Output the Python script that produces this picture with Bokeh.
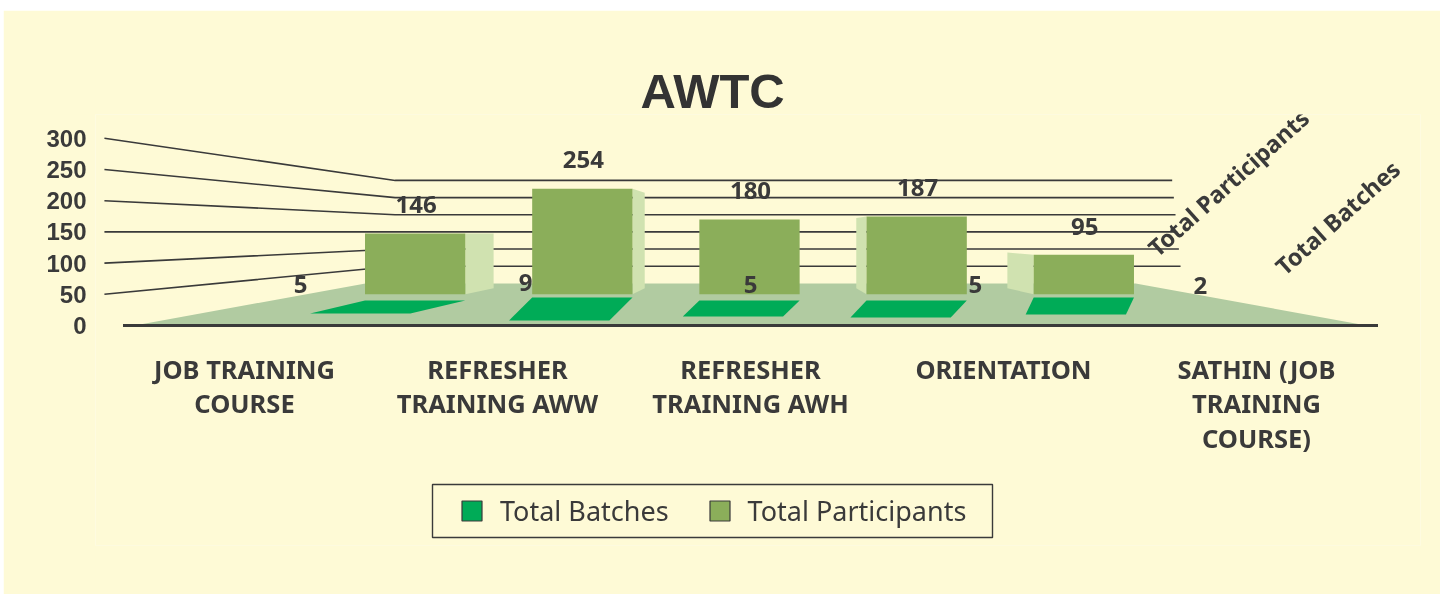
from bokeh.plotting import figure
from bokeh.models import Range1d, FixedTicker, Legend, LegendItem, Label, ColumnDataSource
from bokeh.core.properties import value
from bokeh.embed import file_html
from bokeh.resources import INLINE

# ---- data
categories = ["JOB TRAINING\nCOURSE", "REFRESHER\nTRAINING AWW", "REFRESHER\nTRAINING AWH",
              "ORIENTATION", "SATHIN (JOB\nTRAINING\nCOURSE)"]
total_batches = [5, 9, 5, 5, 2]
total_participants = [146, 254, 180, 187, 95]
y_ticks = [0, 50, 100, 150, 200, 250, 300]
series_names = ["Total Batches", "Total Participants"]
chart_title = "AWTC"

# ---- layout of the perspective (depth scale s around the vanishing point)
CX, CV = 2.0, 150.0            # vanishing point in category / value units
S_WALL = 0.55                  # back wall
S_BAR, S_BAR_BACK = 0.666, 0.602
S_BATCH = 0.896
BAR_HALF = 0.30
BAR_NUDGE = -0.004
WALL_OUT = 2.574
LABEL_LIFT = 46
FLOOR_FRONT, FLOOR_BACK = 2.454, 1.534
PAD_BACK = [40, 45, 40, 40, 45]
PAD_DEPTH_PER_BATCH = [4.17, 4.1, 5.13, 5.45, 13.6]
PAD_SKEW = [-0.219, -0.092, -0.066, -0.064, -0.032]
TICK_SPREAD = 1.008

BG, DARK = "#FEFAD6", "#3A3A3A"
FLOOR, FRONT, SIDE, PAD = "#B1CBA1", "#8BAE5A", "#D0E2B0", "#00AB57"
NAN = float("nan")


def px(c, s):
    return CX + s * (c - CX)


def pv(v, s):
    return CV + s * (v - CV)


PX_PER_CAT, PX_PER_V = 251.0, 0.624
FW, FH = 1325, 431
x0 = CX - (750 - 95) / PX_PER_CAT
y0 = (325 - 545) / PX_PER_V

p = figure(width=1437, height=584, output_backend="svg", toolbar_location=None,
           frame_width=FW, frame_height=FH,
           x_range=Range1d(x0, x0 + FW / PX_PER_CAT),
           y_range=Range1d(y0, y0 + FH / PX_PER_V),
           min_border_left=92, min_border_right=20, min_border_top=104, min_border_bottom=49,
           background_fill_color=BG, border_fill_color=BG, outline_line_color=None,
           styles={"position": "fixed", "left": "3px", "top": "10px"})
p.grid.visible = False

p.title.text = chart_title
p.title.text_font = "Liberation Sans"
p.title.text_font_size = "49px"
p.title.text_font_style = "bold"
p.title.text_color = "#333333"
p.title.align = "left"
p.title.offset = 545
p.title.standoff = -7

ya = p.yaxis[0]
ya.ticker = FixedTicker(ticks=[t for t in y_ticks])
ya.bounds = (0, 300)
ya.axis_line_color = None
ya.major_tick_line_color = None
ya.minor_tick_line_color = None
ya.major_label_standoff = 3
ya.major_label_text_font = "Liberation Sans"
ya.major_label_text_font_style = "bold"
ya.major_label_text_font_size = "24px"
ya.major_label_text_color = DARK

tick_at = [round(px(i, TICK_SPREAD), 3) for i in range(len(categories))]
xa = p.xaxis[0]
xa.fixed_location = 0
xa.ticker = FixedTicker(ticks=tick_at)
xa.major_label_overrides = dict(zip(tick_at, categories))
xa.axis_line_color = None
xa.major_tick_line_color = None
xa.minor_tick_line_color = None
xa.major_label_standoff = 20
xa.major_label_text_font = "Noto Sans"
xa.major_label_text_font_style = "bold"
xa.major_label_text_font_size = "25.5px"
xa.major_label_text_color = DARK
xa.major_label_text_line_height = 1.02

# grid on the left wall and back wall
xs, ys = [], []
for t in y_ticks[1:]:
    xs.append([CX - WALL_OUT, px(CX - WALL_OUT, S_WALL), CX + 1.68 + (300 - t) / 300 * 0.04])
    ys.append([t, pv(t, S_WALL), pv(t, S_WALL)])
p.multi_line(xs, ys, line_color=DARK, line_width=1.6)

# floor
p.patch([CX - FLOOR_FRONT, CX + FLOOR_FRONT, CX + FLOOR_BACK, CX - FLOOR_BACK],
        [0, 0, pv(0, S_WALL), pv(0, S_WALL)], fill_color=FLOOR, line_color=None)
# base line
p.line([CX - 2.50, CX + 2.50], [0, 0], line_color=DARK, line_width=3)

idx = list(range(len(categories)))

# side faces of the participants' bars
sx, sy = [], []
for i, v in zip(idx, total_participants):
    if i == CX:
        continue
    edge = i + BAR_HALF if i < CX else i - BAR_HALF
    sx.append([px(edge, S_BAR) + BAR_NUDGE, px(edge, S_BAR) + BAR_NUDGE, px(edge, S_BAR_BACK), px(edge, S_BAR_BACK)])
    sy.append([pv(0, S_BAR), pv(v, S_BAR), pv(v, S_BAR_BACK), pv(0, S_BAR_BACK)])
p.patches(sx, sy, fill_color=SIDE, line_color=None)

# front faces
fronts = ColumnDataSource(dict(
    left=[px(i - BAR_HALF, S_BAR) + BAR_NUDGE for i in idx],
    right=[px(i + BAR_HALF, S_BAR) + BAR_NUDGE for i in idx],
    top=[pv(v, S_BAR) for v in total_participants],
    bottom=[pv(0, S_BAR)] * len(idx)))
p.quad(left="left", right="right", top="top", bottom="bottom", source=fronts,
       fill_color=FRONT, line_color=None)

# batches: flat pads on the floor
pxs, pys = [], []
for i, b in zip(idx, total_batches):
    l, r = px(i - BAR_HALF, S_BAR) + BAR_NUDGE, px(i + BAR_HALF, S_BAR) + BAR_NUDGE
    front = PAD_BACK[i] - b * PAD_DEPTH_PER_BATCH[i]
    pxs.append([l, r, r + PAD_SKEW[i], l + PAD_SKEW[i]])
    pys.append([PAD_BACK[i], PAD_BACK[i], front, front])
p.patches(pxs, pys, fill_color=PAD, line_color=None)

# value labels
vfont = value("Noto Sans")
p.text([px(i, S_BAR) for i in idx], [pv(v, S_BAR) + LABEL_LIFT for v in total_participants],
       text=[str(v) for v in total_participants], text_font=vfont, text_font_style="bold",
       text_font_size="24px", text_color=DARK, text_align="center", text_baseline="middle")
p.text([px(i, S_BATCH) for i in idx], [pv(v, S_BATCH) + LABEL_LIFT for v in total_batches],
       text=[str(v) for v in total_batches], text_font=vfont, text_font_style="bold",
       text_font_size="24px", text_color=DARK, text_align="center", text_baseline="middle")

# depth-axis names
for name, cx, cv in [(series_names[1], 3.904, 229), (series_names[0], 4.339, 173)]:
    p.add_layout(Label(x=cx, y=cv, text=name, angle=41.8, angle_units="deg",
                       text_align="center", text_baseline="middle", text_font="Noto Sans",
                       text_font_style="bold", text_font_size="23.5px", text_color=DARK))

# legend frame (legend box page position converted to data units)
p.quad(left=[CX + (432 - 750) / PX_PER_CAT], right=[CX + (992 - 750) / PX_PER_CAT],
       top=[(325 - 484) / PX_PER_V], bottom=[(325 - 537) / PX_PER_V],
       fill_color=None, line_color=DARK, line_width=1.4)
r1 = p.quad(left=[NAN], right=[NAN], top=[NAN], bottom=[NAN], fill_color=PAD, line_color=DARK, line_width=1.2)
r2 = p.quad(left=[NAN], right=[NAN], top=[NAN], bottom=[NAN], fill_color=FRONT, line_color=DARK, line_width=1.2)
legend = Legend(items=[LegendItem(label=value(series_names[0]), renderers=[r1]),
                       LegendItem(label=value(series_names[1]), renderers=[r2])],
                orientation="horizontal", location=(364, 16),
                background_fill_alpha=0, border_line_color=None,
                glyph_width=25, glyph_height=25, label_standoff=16, spacing=38,
                padding=0, margin=0, label_text_font="Noto Sans", label_text_font_size="27px",
                label_text_color=DARK)
p.add_layout(legend)

open("out.html", "w").write(file_html(p, INLINE))
